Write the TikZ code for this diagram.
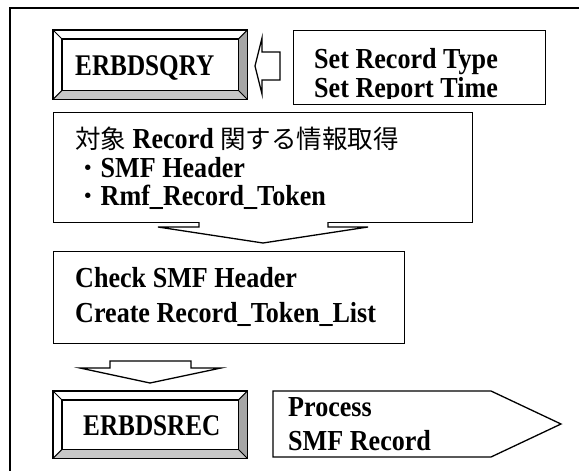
\documentclass[tikz,border=0pt]{standalone}
\usepackage{fontspec}
\setmainfont{Liberation Serif}[FakeStretch=0.9]
\newfontfamily\jpfontraw{Noto Sans CJK JP}
\newcommand\jp[1]{{\jpfontraw\mdseries\fontsize{25.5}{28}\selectfont #1}}
\newfontfamily\bevfont{Liberation Serif}[FakeStretch=0.84]
\begin{document}
\begin{tikzpicture}[x=1pt,y=-1pt,
  frameline/.style={line width=1.7pt},
  boxstyle/.style={draw, line width=1.3pt, fill=white, inner sep=0pt, anchor=north west},
  lbl/.style={inner sep=0pt, anchor=base west, font=\fontsize{29}{31}\selectfont\bfseries},
  bevlbl/.style={inner sep=0pt, anchor=base west, font=\bevfont\fontsize{30}{32}\selectfont\bfseries},
  blockarrow/.style={draw, line width=1.3pt, fill=white, line join=miter}]
\useasboundingbox (0,0) rectangle (579,471);
% outer frame (only top and left visible)
\draw[frameline] (10,471) -- (10,8) -- (579,8);

% ---------- ERBDSQRY bevel box ----------
\node[boxstyle, minimum width=193pt, minimum height=68pt] (qry) at (53,30) {};
\node[draw, line width=1pt, fill=white, inner sep=0pt, minimum width=176pt, minimum height=51pt] (qryin) at (qry.center) {};
\fill[black!35] (qry.north east) -- (qryin.north east) -- (qryin.south east) -- (qry.south east) -- cycle;
\fill[black!22] (qry.south west) -- (qryin.south west) -- (qryin.south east) -- (qry.south east) -- cycle;
\draw[line width=1pt] (qry.north west) -- (qryin.north west) (qry.north east) -- (qryin.north east)
  (qry.south west) -- (qryin.south west) (qry.south east) -- (qryin.south east);
\draw[line width=1pt] (qryin.north west) rectangle (qryin.south east);
\draw[line width=1.3pt] (qry.north west) rectangle (qry.south east);
\node[bevlbl] (qrytxt) at (75,75) {ERBDSQRY};

% ---------- Set box ----------
\node[boxstyle, minimum width=252pt, minimum height=74pt] (setbox) at (293,30) {};
\begin{scope}
\clip (293,30) rectangle (545,98);
\node[lbl] (set1) at (314,68) {Set Record Type};
\node[lbl] (set2) at (314,97) {Set Report Time};
\end{scope}

% left block arrow (from Set box towards ERBDSQRY)
\draw[blockarrow] (255,66) -- (262,38) -- (262,52) -- (280,52) -- (280,80) -- (262,80) -- (262,94) -- cycle;

% ---------- Box 2 ----------
\node[boxstyle, minimum width=419pt, minimum height=110pt] (info) at (53,112) {};
\node[lbl] (info1) at (75,148) {\jp{対象} Record \jp{関する情報取得}};
\node[lbl] (info2) at (75,177) {\jp{・}SMF Header};
\node[lbl] (info3) at (75,205) {\jp{・}Rmf\_Record\_Token};

% wide down arrow
\draw[blockarrow] (199,222) -- (199,227) -- (158,227) -- (263,243) -- (368,227) -- (328,227) -- (328,222);

% ---------- Box 3 ----------
\node[boxstyle, minimum width=351pt, minimum height=92pt] (check) at (53,251) {};
\node[lbl] (check1) at (75,287) {Check SMF Header};
\node[lbl] (check2) at (75,322) {Create Record\_Token\_List};

% small down arrow
\draw[blockarrow] (110,361) -- (110,368) -- (80,368) -- (150,383) -- (221,368) -- (191,368) -- (191,361) -- cycle;

% ---------- ERBDSREC bevel box ----------
\node[boxstyle, minimum width=193pt, minimum height=66pt] (rec) at (53,391) {};
\node[draw, line width=1pt, fill=white, inner sep=0pt, minimum width=176pt, minimum height=49pt] (recin) at (rec.center) {};
\fill[black!35] (rec.north east) -- (recin.north east) -- (recin.south east) -- (rec.south east) -- cycle;
\fill[black!22] (rec.south west) -- (recin.south west) -- (recin.south east) -- (rec.south east) -- cycle;
\draw[line width=1pt] (rec.north west) -- (recin.north west) (rec.north east) -- (recin.north east)
  (rec.south west) -- (recin.south west) (rec.south east) -- (recin.south east);
\draw[line width=1pt] (recin.north west) rectangle (recin.south east);
\draw[line width=1.3pt] (rec.north west) rectangle (rec.south east);
\node[bevlbl] (rectxt) at (83,435) {ERBDSREC};

% ---------- Process pentagon ----------
\draw[blockarrow] (273,391) -- (491,391) -- (561,424) -- (491,457) -- (273,457) -- cycle;
\node[lbl] (proc1) at (288,416) {Process};
\node[lbl] (proc2) at (288,450) {SMF Record};
\end{tikzpicture}
\end{document}
